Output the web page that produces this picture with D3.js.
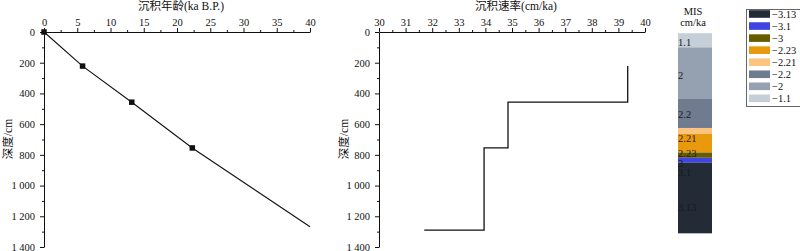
<!DOCTYPE html>
<html>
<head>
<meta charset="utf-8">
<script src="https://cdn.jsdelivr.net/npm/d3@7"></script>
<style>
  body { margin: 0; background: #fff; }
  text { font-family: "Liberation Serif", "Noto Sans CJK SC", serif; fill: #111; }
  .axis path, .axis line { stroke: #111; }
</style>
</head>
<body>
<div id="chart"></div>
<script>
// age-depth model (ka B.P. vs cm)
var ageVals = [0, 5.8, 13.2, 22.3, 40];
var ageDepth = [0, 222, 457, 755, 1268];
var ageMarked = [true, true, true, true, false];

// sedimentation rate step line (cm/ka vs cm)
var rateVals = [39.35, 39.35, 34.85, 34.85, 33.95, 33.95, 31.7];
var rateDepth = [222, 457, 457, 755, 755, 1290, 1290];

// MIS column
var misNames = ["1.1", "2", "2.2", "2.21", "2.23", "3", "3.1", "3.13"];
var misBounds = [8, 100, 436, 625, 664, 785, 819, 851, 1311];
var misLabelDepth = [65, 280, 534, 690, 788, 853, 914, 1140];
var misColors = ["#c5cfd8", "#95a1b0", "#6f7c8f", "#fbc57f", "#e99a0c", "#665c00", "#3f45e0", "#222b36"];

var svgWidth = 800;
var svgHeight = 251;

var svg = d3.select("#chart")
  .append("svg")
  .attr("width", svgWidth)
  .attr("height", svgHeight);

var yScale = d3.scaleLinear().domain([0, 1400]).range([32, 247]);
var xAge = d3.scaleLinear().domain([0, 40]).range([44, 310]);
var xRate = d3.scaleLinear().domain([30, 40]).range([379, 645]);

var depthFmt = function(d) {
  var s = String(d);
  return d >= 1000 ? s.slice(0, s.length - 3) + " " + s.slice(-3) : s;
};

function drawAxes(xScale, x0, step, title, labelOff) {
  var dom = xScale.domain();
  // major x ticks
  svg.append("g")
    .attr("class", "axis")
    .attr("transform", "translate(0," + yScale(0) + ")")
    .call(d3.axisTop(xScale)
      .tickValues(d3.range(dom[0], dom[1] + 0.001, step))
      .tickSize(4).tickSizeOuter(0).tickPadding(2))
    .call(g => g.selectAll("text").attr("font-size", 10.5));
  // minor x ticks
  svg.append("g")
    .attr("class", "axis")
    .attr("transform", "translate(0," + yScale(0) + ")")
    .call(d3.axisTop(xScale)
      .tickValues(d3.range(dom[0] + step / 2, dom[1], step))
      .tickSize(2).tickSizeOuter(0).tickFormat(""))
    .call(g => g.select(".domain").remove());
  // major y ticks
  svg.append("g")
    .attr("class", "axis")
    .attr("transform", "translate(" + x0 + ",0)")
    .call(d3.axisLeft(yScale)
      .tickValues(d3.range(0, 1401, 200))
      .tickSize(4).tickSizeOuter(0).tickPadding(5)
      .tickFormat(depthFmt))
    .call(g => g.selectAll("text").attr("font-size", 10.5));
  // minor y ticks
  svg.append("g")
    .attr("class", "axis")
    .attr("transform", "translate(" + x0 + ",0)")
    .call(d3.axisLeft(yScale)
      .tickValues(d3.range(100, 1400, 200))
      .tickSize(2).tickSizeOuter(0).tickFormat(""))
    .call(g => g.select(".domain").remove());

  var r = xScale.range();
  svg.append("text")
    .attr("x", (r[0] + r[1]) / 2 + 4)
    .attr("y", 10)
    .attr("text-anchor", "middle")
    .attr("font-size", 11.5)
    .text(title);

  svg.append("text")
    .attr("transform", "translate(" + (x0 - labelOff) + "," + 139 + ") rotate(-90)")
    .attr("text-anchor", "middle")
    .attr("font-size", 11.5)
    .text("深度/cm");
}

drawAxes(xAge, 44, 5, "沉积年龄(ka B.P.)", 32);
drawAxes(xRate, 379, 1, "沉积速率(cm/ka)", 31);

// age-depth line
var ageData = ageVals.map((a, i) => ({ age: a, depth: ageDepth[i], mark: ageMarked[i] }));
svg.append("path")
  .datum(ageData)
  .attr("fill", "none")
  .attr("stroke", "#111")
  .attr("stroke-width", 1.1)
  .attr("d", d3.line().x(d => xAge(d.age)).y(d => yScale(d.depth)));

svg.selectAll(".marker")
  .data(ageData.filter(d => d.mark))
  .enter()
  .append("rect")
  .attr("class", "marker")
  .attr("x", d => xAge(d.age) - 2.75)
  .attr("y", d => yScale(d.depth) - 2.75)
  .attr("width", 5.5)
  .attr("height", 5.5)
  .attr("fill", "#111");

// rate step line
var rateData = rateVals.map((r, i) => ({ rate: r, depth: rateDepth[i] }));
svg.append("path")
  .datum(rateData)
  .attr("fill", "none")
  .attr("stroke", "#111")
  .attr("stroke-width", 1.3)
  .attr("d", d3.line().x(d => xRate(d.rate)).y(d => yScale(d.depth)));

// MIS column
var misX = 678, misW = 34;
svg.append("text")
  .attr("x", misX + misW / 2 - 2).attr("y", 15)
  .attr("text-anchor", "middle").attr("font-size", 10.5)
  .text("MIS");
svg.append("text")
  .attr("x", misX + misW / 2 - 2).attr("y", 26)
  .attr("text-anchor", "middle").attr("font-size", 10.5)
  .text("cm/ka");

svg.selectAll(".mis")
  .data(misNames)
  .enter()
  .append("rect")
  .attr("class", "mis")
  .attr("x", misX)
  .attr("width", misW)
  .attr("y", (d, i) => yScale(misBounds[i]))
  .attr("height", (d, i) => yScale(misBounds[i + 1]) - yScale(misBounds[i]))
  .attr("fill", (d, i) => misColors[i]);

svg.selectAll(".misLabel")
  .data(misNames)
  .enter()
  .append("text")
  .attr("class", "misLabel")
  .attr("x", misX)
  .attr("y", (d, i) => yScale(misLabelDepth[i]))
  .attr("dy", "0.35em")
  .attr("font-size", 10.5)
  .style("fill", "#1a1a1a")
  .text(d => d);

// legend
var legendOrder = misNames.slice().reverse();
var legendColors = misColors.slice().reverse();
var legend = svg.append("g").attr("transform", "translate(746,9)");
legend.append("rect")
  .attr("x", 0.5).attr("y", 0.5)
  .attr("width", 70).attr("height", 97)
  .attr("fill", "none").attr("stroke", "#666");
var rows = legend.selectAll(".row")
  .data(legendOrder)
  .enter()
  .append("g")
  .attr("class", "row")
  .attr("transform", (d, i) => "translate(0," + (5 + i * 12.05) + ")");
rows.append("rect")
  .attr("x", 3).attr("y", -3.8)
  .attr("width", 21).attr("height", 7.6)
  .attr("fill", (d, i) => legendColors[i]);
rows.append("text")
  .attr("x", 26).attr("dy", "0.35em")
  .attr("font-size", 10.5)
  .text(d => "\u2212" + d);
</script>
</body>
</html>
